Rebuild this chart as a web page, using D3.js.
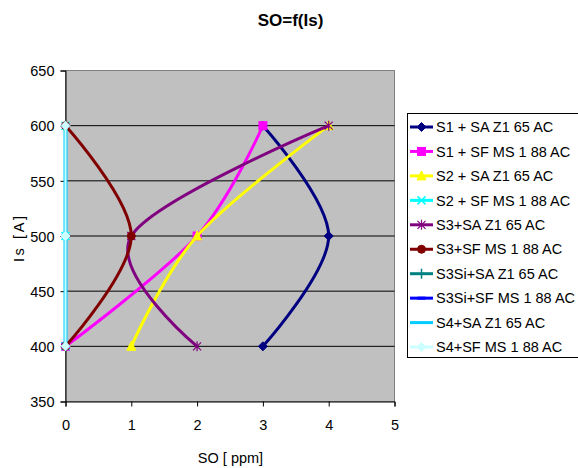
<!DOCTYPE html>
<html><head><meta charset="utf-8">
<script src="https://cdn.jsdelivr.net/npm/d3@7"></script>
<style>body{margin:0;background:#fff}svg{display:block;font-family:"Liberation Sans",Arial,sans-serif}</style>
</head><body><svg id="c" width="578" height="468"></svg>
<script>
// ---- data ----
const title = "SO=f(Is)";
const xTitle = "SO [ ppm]";
const yTitle = "Is [A]";
const xTicks = [0, 1, 2, 3, 4, 5];
const yTicks = [350, 400, 450, 500, 550, 600, 650];
const currents = [400, 500, 600];
const seriesNames = ["S1 + SA Z1 65 AC", "S1 + SF MS 1 88 AC", "S2 + SA Z1 65 AC", "S2 + SF MS 1 88 AC",
  "S3+SA Z1 65 AC", "S3+SF MS 1 88 AC", "S3Si+SA Z1 65 AC", "S3Si+SF MS 1 88 AC", "S4+SA Z1 65 AC", "S4+SF MS 1 88 AC"];
const s1SA = [3, 4, 3];
const s1SF = [0, 2, 3];
const s2SA = [1, 2, 4];
const s2SF = [0, 0, 0];
const s3SA = [2, 1, 4];
const s3SF = [0, 1, 0];
const s3SiSA = [0, 0, 0];
const s3SiSF = [0, 0, 0];
const s4SA = [0, 0, 0];
const s4SF = [0, 0, 0];
const seriesValues = [s1SA, s1SF, s2SA, s2SF, s3SA, s3SF, s3SiSA, s3SiSF, s4SA, s4SF];
const colors = ["#000080", "#FF00FF", "#FFFF00", "#00FFFF", "#800080", "#800000", "#008080", "#0000FF", "#00CCFF", "#CCFFFF"];
const markers = ["diamond", "square", "triangle", "x", "star", "circle", "plus", "dash", "none", "diamond"];
const lineWidths = [3, 3, 3, 3, 3, 3, 3, 3, 4, 2];

// ---- layout ----
const svg = d3.select("#c");
const L = 65.5, R = 394.5, T = 70.5, B = 401.5;
const x = d3.scaleLinear().domain([0, 5]).range([L, R]);
const y = d3.scaleLinear().domain([350, 650]).range([B, T]);
const fs = 14.5;

svg.append("rect").attr("x", L).attr("y", T).attr("width", R - L).attr("height", B - T)
  .attr("fill", "#C0C0C0").attr("stroke", "#808080").attr("stroke-width", 1);

// gridlines
svg.append("g").selectAll("line").data(yTicks.filter(v => v > 350 && v < 650)).join("line")
  .attr("x1", L).attr("x2", R).attr("y1", d => y(d)).attr("y2", d => y(d))
  .attr("stroke", "#000").attr("stroke-width", 1);

// axes
const xAxis = svg.append("g").attr("transform", `translate(0,${B})`)
  .call(d3.axisBottom(x).tickValues(xTicks).tickSize(5).tickPadding(13).tickFormat(d3.format("d")));
const yAxis = svg.append("g").attr("transform", `translate(${L},0)`)
  .call(d3.axisLeft(y).tickValues(yTicks).tickSize(5).tickPadding(6).tickFormat(d3.format("d")));
[xAxis, yAxis].forEach(a => {
  a.select(".domain").attr("stroke", "#000").attr("stroke-width", 1);
  a.selectAll(".tick line").attr("stroke", "#000");
  a.selectAll("text").attr("font-size", fs).attr("fill", "#000").attr("font-family", "Liberation Sans, Arial, sans-serif");
});
yAxis.selectAll(".tick text").attr("dy", "0.36em");

// marker drawing
function drawMarker(g, type, cx, cy, col) {
  const s = 4;
  if (type === "diamond") {
    g.append("path").attr("d", `M${cx},${cy - s - 0.5}L${cx + s + 0.5},${cy}L${cx},${cy + s + 0.5}L${cx - s - 0.5},${cy}Z`).attr("fill", col).attr("stroke", col);
  } else if (type === "square") {
    g.append("rect").attr("x", cx - s).attr("y", cy - s).attr("width", 2 * s).attr("height", 2 * s).attr("fill", col).attr("stroke", col);
  } else if (type === "triangle") {
    g.append("path").attr("d", `M${cx},${cy - s - 1}L${cx + s + 0.5},${cy + s}L${cx - s - 0.5},${cy + s}Z`).attr("fill", col).attr("stroke", col);
  } else if (type === "x") {
    g.append("path").attr("d", `M${cx - s},${cy - s}L${cx + s},${cy + s}M${cx - s},${cy + s}L${cx + s},${cy - s}`).attr("stroke", col).attr("stroke-width", 1.5).attr("fill", "none");
  } else if (type === "star") {
    g.append("path").attr("d", `M${cx - s},${cy - s}L${cx + s},${cy + s}M${cx - s},${cy + s}L${cx + s},${cy - s}M${cx},${cy - s - 1}L${cx},${cy + s + 1}`).attr("stroke", col).attr("stroke-width", 1.2).attr("fill", "none");
  } else if (type === "circle") {
    g.append("circle").attr("cx", cx).attr("cy", cy).attr("r", s).attr("fill", col).attr("stroke", col);
  } else if (type === "plus") {
    g.append("path").attr("d", `M${cx - s},${cy}L${cx + s},${cy}M${cx},${cy - s - 1}L${cx},${cy + s + 1}`).attr("stroke", col).attr("stroke-width", 1.5).attr("fill", "none");
  } else if (type === "dash") {
    g.append("path").attr("d", `M${cx - s},${cy}L${cx + s},${cy}`).attr("stroke", col).attr("stroke-width", 3).attr("fill", "none");
  }
}

// series
const line = d3.line().x(d => x(d[0])).y(d => y(d[1])).curve(d3.curveCardinal.tension(0));
const plot = svg.append("g");
seriesValues.forEach((vals, i) => {
  const pts = vals.map((v, j) => [v, currents[j]]);
  const g = plot.append("g");
  g.append("path").attr("d", line(pts)).attr("fill", "none").attr("stroke", colors[i])
    .attr("stroke-width", lineWidths[i]).attr("stroke-linejoin", "round");
  pts.forEach(p => drawMarker(g, markers[i], x(p[0]), y(p[1]), colors[i]));
});

// title
svg.append("text").attr("x", 290.5).attr("y", 26).attr("text-anchor", "middle")
  .attr("font-size", 17).attr("font-weight", "bold").text(title);
svg.append("text").attr("x", 230.5).attr("y", 463).attr("text-anchor", "middle")
  .attr("font-size", fs).text(xTitle);
svg.append("text").attr("transform", "translate(24,239) rotate(-90)").attr("text-anchor", "middle")
  .attr("font-size", fs).attr("textLength", 46).attr("lengthAdjust", "spacing").text(yTitle);

// legend
const lg = svg.append("g");
lg.append("rect").attr("x", 407.5).attr("y", 113.5).attr("width", 200).attr("height", 244)
  .attr("fill", "#fff").attr("stroke", "#000").attr("stroke-width", 1);
seriesNames.forEach((name, i) => {
  const cy = 127 + i * 24.45;
  lg.append("line").attr("x1", 410).attr("x2", 433).attr("y1", cy).attr("y2", cy)
    .attr("stroke", colors[i]).attr("stroke-width", 3);
  drawMarker(lg, markers[i], 421.5, cy, colors[i]);
  lg.append("text").attr("x", 436).attr("y", cy + 5.2).attr("font-size", fs).text(name);
});
</script></body></html>
